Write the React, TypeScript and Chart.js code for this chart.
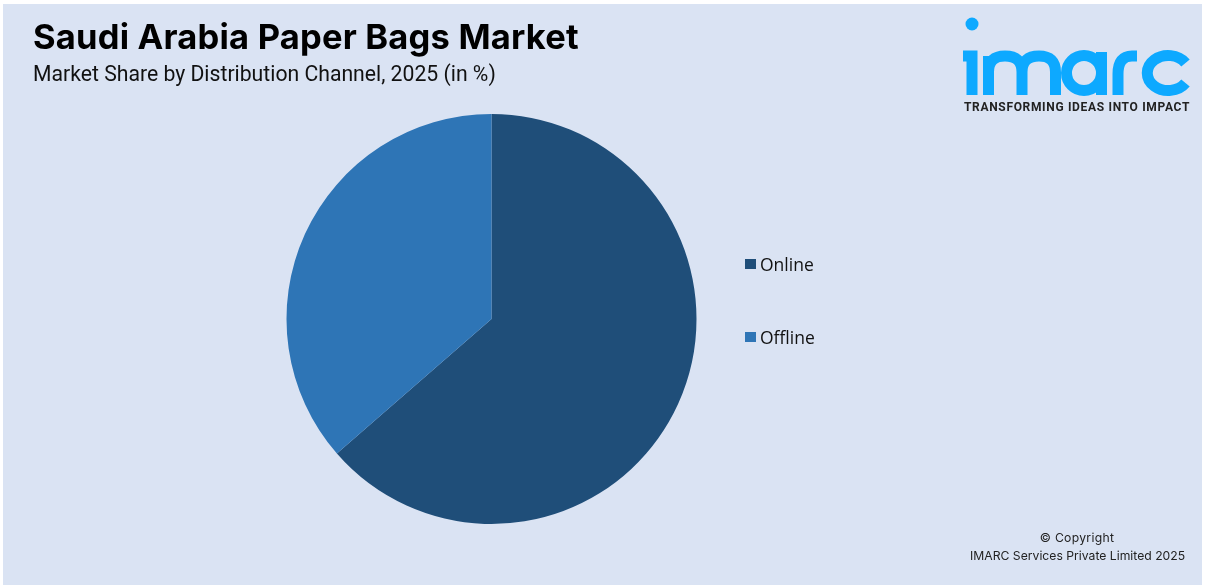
import Chart, {ChartItem} from 'chart.js/auto';
import {useEffect, useRef} from "react";

const categories = ['Online', 'Offline'];
const shares = [63.6, 36.4];
const sliceColors = ['#1F4E79', '#2E75B6'];

const title = 'Saudi Arabia Paper Bags Market';
const subtitle = 'Market Share by Distribution Channel, 2025 (in %)';

function Logo() {
    const blue = '#0DA9FF';
    return (
        <svg width={240} height={100} style={{position: 'absolute', left: 955, top: 10}} viewBox="955 10 240 100">
            <circle cx={972} cy={24} r={6.5} fill={blue}/>
            <g fill="none" stroke={blue} strokeWidth={11}>
                <path d="M963 56H972V95"/>
                <path d="M988.5 95V56M988.5 72Q988.5 56 1005 56Q1022 56 1022 72V95M1022 72Q1022 56 1039 56Q1055.5 56 1055.5 72V95"/>
                <circle cx={1084} cy={73} r={17.5}/>
                <path d="M1101.5 52V95"/>
                <path d="M1118 95V74Q1118 56 1132 56H1137"/>
                <path d="M1185.5 63A21 17.5 0 1 0 1185.5 83"/>
            </g>
        </svg>
    );
}

export default function App() {
    let chartCanvas = useRef(null);

    useEffect(() => {
        let chart = new Chart(chartCanvas.current as ChartItem, {
            type: 'pie',
            data: {
                labels: categories,
                datasets: [{
                    data: shares,
                    backgroundColor: sliceColors,
                    borderWidth: 0,
                }]
            },
            options: {
                animation: false,
                responsive: false,
                layout: {padding: {left: 286.5, right: 509.5, top: 114, bottom: 64}},
                plugins: {
                    tooltip: {enabled: false},
                    legend: {display: false},
                }
            }
        });
        return () => {
            chart.destroy();
        }
    },[])

    const text = {position: 'absolute', whiteSpace: 'nowrap', color: '#000'} as const;

    return (
        <div style={{position: 'absolute', left: 0, top: 0, width: 1206, height: 588, background: '#fff', overflow: 'hidden'}}>
            <div style={{position: 'absolute', left: 3, top: 4, width: 1199, height: 581, background: '#DAE3F3'}}/>
            <canvas ref={chartCanvas} width={1206} height={588} style={{position: 'absolute', left: 0, top: 0}}></canvas>
            <div style={{...text, left: 33, top: 16, font: '700 34.5px Inter, Roboto', letterSpacing: 0.2}}>{title}</div>
            <div style={{...text, left: 33, top: 61, font: '400 21.2px Roboto', color: '#111'}}>{subtitle}</div>
            <Logo/>
            <div style={{...text, left: 964, top: 100, font: '700 12px Roboto', letterSpacing: 0.67, color: '#222'}}>TRANSFORMING IDEAS INTO IMPACT</div>
            {categories.map((name, i) => (
                <div key={name} style={{...text, left: 745, top: 252 + i * 73, height: 24, display: 'flex', alignItems: 'center', font: '400 17.5px "Open Sans"', color: '#111'}}>
                    <span style={{width: 10.5, height: 10.5, background: sliceColors[i], marginRight: 4.5}}/>
                    {name}
                </div>
            ))}
            <div style={{...text, left: 977, width: 200, textAlign: 'center', top: 530, font: '400 12.2px Inter', letterSpacing: 0.3, color: '#222'}}>© Copyright</div>
            <div style={{...text, left: 970, top: 548, font: '400 12.2px Inter', color: '#222'}}>IMARC Services Private Limited 2025</div>
        </div>
    )
}
